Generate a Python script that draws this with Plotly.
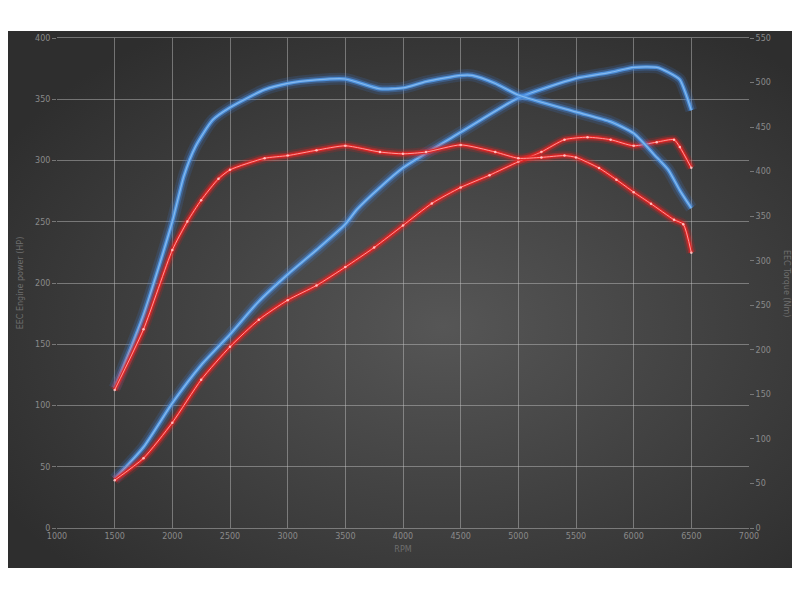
import base64
import plotly.graph_objects as go

# stock (red) and tuned (blue) dyno data
rpm_tq_blue = [1500, 1750, 2000, 2100, 2200, 2350, 2500, 2800, 3000, 3250, 3500, 3800, 4000, 4200, 4500, 4600, 4800, 5000, 5500, 5800, 6000, 6200, 6300, 6400, 6500]
tq_blue = [157, 239, 344, 395, 428, 458, 472, 492, 499, 503, 504, 493, 494, 501, 508, 508, 499, 486, 467, 456, 443, 416, 402, 379, 359]

rpm_hp_blue = [1500, 1750, 2000, 2250, 2500, 2750, 3000, 3250, 3500, 3600, 3800, 4000, 4500, 5000, 5500, 5800, 6000, 6200, 6300, 6400, 6450, 6500]
hp_blue = [40, 66, 102, 133, 158, 185, 207, 227, 248, 260, 278, 294, 323, 351, 367, 372, 376, 376, 372, 366, 355, 341]

rpm_tq_red = [1500, 1750, 2000, 2130, 2250, 2400, 2500, 2800, 3000, 3250, 3500, 3800, 4000, 4200, 4500, 4800, 5000, 5200, 5400, 5500, 5700, 5850, 6000, 6150, 6350, 6430, 6500]
tq_red = [155, 223, 312, 344, 368, 392, 402, 415, 418, 424, 429, 422, 420, 422, 430, 422, 415, 416, 418, 416, 404, 391, 377, 364, 346, 341, 309]

rpm_hp_red = [1500, 1750, 2000, 2250, 2500, 2750, 3000, 3250, 3500, 3750, 4000, 4250, 4500, 4750, 5000, 5200, 5400, 5600, 5800, 6000, 6200, 6350, 6400, 6500]
hp_red = [39, 57, 86, 121, 148, 170, 186, 198, 213, 229, 247, 265, 278, 288, 299, 307, 317, 319, 317, 312, 315, 317, 311, 294]

fig = go.Figure()


def glow(x, y, yaxis, kind):
    if kind == "blue":
        layers = [(12, "rgba(60,130,230,0.16)"), (7, "rgba(70,140,230,0.33)"),
                  (3.5, "rgba(80,150,225,0.95)"), (1.2, "rgba(140,190,240,0.9)")]
    else:
        layers = [(10, "rgba(230,30,30,0.18)"), (6, "rgba(235,40,40,0.4)"),
                  (3, "rgba(225,35,35,1)"), (1, "rgba(255,160,160,0.95)")]
    for i, (w, c) in enumerate(layers):
        last = i == len(layers) - 1
        fig.add_trace(go.Scatter(
            x=x, y=y, yaxis=yaxis,
            mode="lines+markers" if (last and kind == "red") else "lines",
            line=dict(color=c, width=w, shape="spline", smoothing=0.6),
            marker=dict(size=2.5, color="rgba(255,200,200,0.9)"),
            hoverinfo="skip"))


glow(rpm_tq_blue, tq_blue, "y2", "blue")
glow(rpm_hp_blue, hp_blue, "y", "blue")
glow(rpm_tq_red, tq_red, "y2", "red")
glow(rpm_hp_red, hp_red, "y", "red")

# radial gradient backdrop
svg = ('<svg xmlns="http://www.w3.org/2000/svg" width="800" height="537">'
       '<defs><radialGradient id="g" cx="55%" cy="55%" r="65%">'
       '<stop offset="0%" stop-color="#565656"/><stop offset="100%" stop-color="#2e2e2e"/>'
       '</radialGradient></defs><rect width="800" height="537" fill="url(#g)"/></svg>')
src = "data:image/svg+xml;base64," + base64.b64encode(svg.encode()).decode()

tick_font = dict(family="DejaVu Sans", size=8, color="#8a8a8a")
title_font = dict(family="DejaVu Sans", size=8, color="#6e6e6e")
grid = "rgba(200,200,200,0.45)"

fig.update_layout(
    width=792, height=592,
    margin=dict(l=42, r=51, t=30, b=72),
    paper_bgcolor="white",
    plot_bgcolor="rgba(0,0,0,0)",
    showlegend=False,
    images=[dict(source=src, xref="paper", yref="paper",
                 x=-50 / 699, y=(528 - 31) / 490, sizex=800 / 699, sizey=537 / 490,
                 sizing="stretch", xanchor="left", yanchor="top", layer="below")],
    xaxis=dict(range=[1000, 7000], dtick=500, showgrid=True, gridcolor=grid, gridwidth=1,
               zeroline=False, tickfont=tick_font, ticks="", showline=True, linecolor=grid,
               mirror=True,
               title=dict(text="RPM", font=title_font, standoff=6)),
    yaxis=dict(range=[0, 400], dtick=50, showgrid=True, gridcolor=grid, gridwidth=1,
               zeroline=False, tickfont=tick_font, ticks="outside", ticklen=4, tickcolor=grid,
               title=dict(text="EEC Engine power (HP)", font=title_font, standoff=10)),
    yaxis2=dict(range=[0, 550], dtick=50, overlaying="y", side="right", showgrid=False,
                zeroline=False, tickfont=tick_font, ticks="outside", ticklen=4,
                tickcolor="#777777"),
    annotations=[dict(text="EEC Torque (Nm)", xref="paper", yref="paper", x=1.055, y=0.5,
                      xanchor="center", yanchor="middle", textangle=90, showarrow=False,
                      font=title_font)],
)

fig.write_html("out.html")
